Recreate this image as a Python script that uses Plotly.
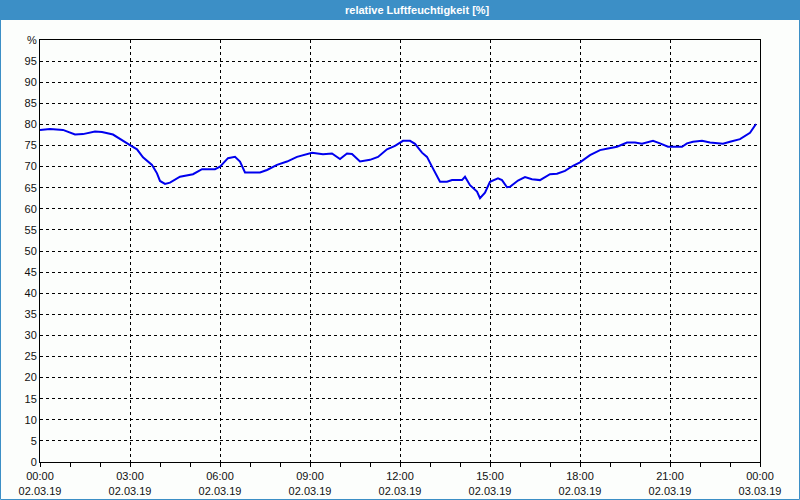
import plotly.graph_objects as go

# ---- data ----
times = ["00:00", "00:20", "00:46", "01:10", "01:26", "01:50", "02:04", "02:26",
         "03:00", "03:14", "03:26", "03:44", "03:54", "04:00", "04:10", "04:20",
         "04:40", "05:06", "05:24", "05:50", "06:00", "06:16", "06:30", "06:40",
         "06:50", "07:20", "07:34", "07:54", "08:14", "08:34", "09:04", "09:26",
         "09:44", "10:00", "10:14", "10:24", "10:40", "11:00", "11:16", "11:34",
         "11:50", "12:06", "12:20", "12:30", "12:44", "12:54", "13:04", "13:20",
         "13:34", "13:44", "14:04", "14:10", "14:20", "14:34", "14:40", "14:50",
         "15:00", "15:16", "15:24", "15:34", "15:40", "15:56", "16:10", "16:24",
         "16:40", "17:00", "17:14", "17:30", "17:46", "18:00", "18:20", "18:40",
         "18:56", "19:14", "19:34", "19:50", "20:04", "20:14", "20:26", "20:40",
         "20:56", "21:24", "21:34", "21:46", "22:04", "22:20", "22:46", "23:00",
         "23:20", "23:40", "23:52"]
humidity = [78.7, 78.9, 78.7, 77.6, 77.7, 78.3, 78.2, 77.6,
            75.1, 74.1, 72.2, 70.4, 68.4, 66.6, 65.9, 66.2,
            67.6, 68.2, 69.4, 69.4, 70.0, 72.0, 72.3, 71.2,
            68.6, 68.6, 69.2, 70.4, 71.2, 72.3, 73.3, 72.9,
            73.1, 71.8, 73.1, 73.0, 71.2, 71.6, 72.3, 74.1,
            74.9, 76.1, 76.1, 75.4, 73.3, 72.3, 70.0, 66.4,
            66.4, 66.8, 66.8, 67.6, 65.6, 64.1, 62.5, 63.8,
            66.4, 67.2, 66.8, 65.1, 65.2, 66.7, 67.5, 67.0,
            66.8, 68.2, 68.3, 69.0, 70.2, 71.0, 72.7, 73.9,
            74.3, 74.7, 75.7, 75.7, 75.4, 75.7, 76.1, 75.5,
            74.7, 74.7, 75.5, 75.9, 76.1, 75.7, 75.4, 75.9,
            76.5, 78.0, 80.1]
day = "2019-03-02"

x_tick_vals = ["2019-03-02 00:00", "2019-03-02 03:00", "2019-03-02 06:00",
               "2019-03-02 09:00", "2019-03-02 12:00", "2019-03-02 15:00",
               "2019-03-02 18:00", "2019-03-02 21:00", "2019-03-03 00:00"]
x_tick_text = ["00:00<br>02.03.19", "03:00<br>02.03.19", "06:00<br>02.03.19",
               "09:00<br>02.03.19", "12:00<br>02.03.19", "15:00<br>02.03.19",
               "18:00<br>02.03.19", "21:00<br>02.03.19", "00:00<br>03.03.19"]
y_tick_vals = list(range(0, 101, 5))
y_tick_text = [str(v) for v in range(0, 100, 5)] + ["%"]
title_text = "relative Luftfeuchtigkeit [%]"

x = [f"{day} {t}" for t in times]

fig = go.Figure()
fig.add_trace(go.Scatter(x=x, y=humidity, mode="lines",
                         line=dict(color="#0000ee", width=2),
                         hoverinfo="x+y", showlegend=False))

tick_font = dict(family="Liberation Sans, Arial, sans-serif", size=11, color="#111111")

fig.update_layout(
    width=800, height=500,
    margin=dict(l=40, r=40, t=40, b=38, autoexpand=False),
    paper_bgcolor="#fcfefc", plot_bgcolor="#fcfefc",
    xaxis=dict(type="date", range=["2019-03-02 00:00", "2019-03-03 00:00"],
               tickvals=x_tick_vals, ticktext=x_tick_text, automargin=False,
               showline=True, linecolor="black", linewidth=1, mirror=True,
               ticks="outside", ticklen=4, tickcolor="black",
               minor=dict(dtick=3600000, ticks="outside", ticklen=4,
                          tickcolor="black", showgrid=False),
               showgrid=True, gridcolor="black", gridwidth=1, griddash="3px,3px",
               zeroline=False, tickfont=tick_font),
    yaxis=dict(range=[0, 100], tickvals=y_tick_vals, ticktext=y_tick_text,
               automargin=False,
               showline=True, linecolor="black", linewidth=1, mirror=True,
               ticks="", showgrid=True, gridcolor="black", gridwidth=1,
               griddash="3px,3px", zeroline=False, tickfont=tick_font),
    shapes=[
        dict(type="rect", xref="paper", yref="paper",
             x0=-40 / 720, x1=1 + 40 / 720, y0=1 + 20 / 422, y1=1 + 40 / 422,
             fillcolor="#3c8fc6", line=dict(width=0), layer="above"),
        dict(type="rect", xref="paper", yref="paper",
             x0=-40 / 720 + 0.5 / 720, x1=1 + 40 / 720 - 0.5 / 720,
             y0=-38 / 422 + 0.5 / 422, y1=1 + 40 / 422 - 0.5 / 422,
             fillcolor="rgba(0,0,0,0)", line=dict(color="#3c8fc6", width=1),
             layer="above"),
    ],
    annotations=[dict(text="<b>" + title_text + "</b>", xref="paper", yref="paper",
                      x=(417 - 40) / 720, y=1 + 30 / 422, showarrow=False,
                      xanchor="center", yanchor="middle",
                      font=dict(family="Liberation Sans, Arial, sans-serif",
                                size=11, color="white"))],
)

fig.write_html("out.html",
               config={"displayModeBar": False},
               post_script="document.body.style.margin='0';"
                           "document.body.style.overflow='hidden';")
